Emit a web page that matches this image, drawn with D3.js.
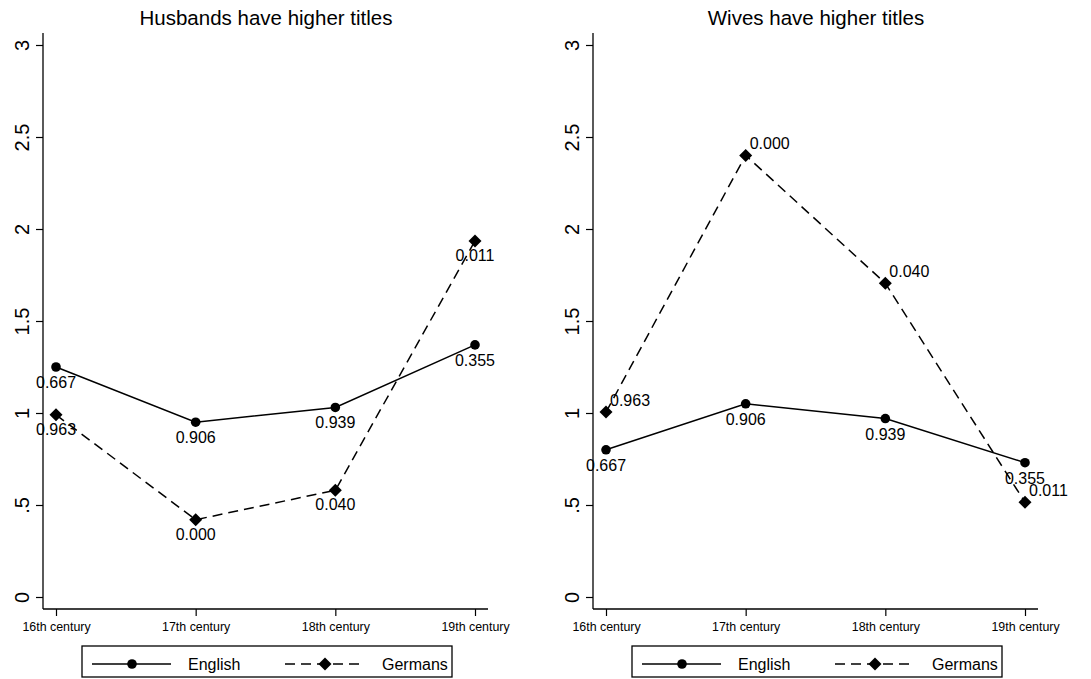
<!DOCTYPE html>
<html>
<head>
<meta charset="utf-8">
<script src="https://cdn.jsdelivr.net/npm/d3@7"></script>
<style>
  body { margin: 0; background: #fff; }
  svg { display: block; font-family: "Liberation Sans", Arial, Helvetica, sans-serif; }
</style>
</head>
<body>
<div id="chart"></div>
<script>
// Data
const centuries = ['16th century', '17th century', '18th century', '19th century'];
const yTicks = [0, 0.5, 1, 1.5, 2, 2.5, 3];
const yTickLabels = ['0', '.5', '1', '1.5', '2', '2.5', '3'];

const husbandsEnglish = [1.25, 0.95, 1.03, 1.37];
const husbandsGermans = [0.99, 0.42, 0.58, 1.935];
const wivesEnglish = [0.80, 1.05, 0.97, 0.73];
const wivesGermans = [1.005, 2.40, 1.705, 0.515];

const englishPvals = ['0.667', '0.906', '0.939', '0.355'];
const germansPvals = ['0.963', '0.000', '0.040', '0.011'];

const panels = [
  { title: 'Husbands have higher titles', english: husbandsEnglish, germans: husbandsGermans, left: 43, germansLabelPos: 'below' },
  { title: 'Wives have higher titles', english: wivesEnglish, germans: wivesGermans, left: 593, germansLabelPos: 'upright' }
];

const width = 1091, height = 679;
const dash = '10,6';
const font = '"Liberation Sans", Arial, Helvetica, sans-serif';

// filled diamond marker, half-diagonal r
const diamondPath = r => `M0,${-r}L${r},0L0,${r}L${-r},0Z`;

const svg = d3.select('#chart').append('svg')
  .attr('width', width)
  .attr('height', height);

const y = d3.scaleLinear().domain([0, 3]).range([597, 45]);

panels.forEach(p => {
  const g = svg.append('g').attr('transform', `translate(${p.left},0)`);
  const x = d3.scalePoint().domain(centuries).range([13, 432]);
  const axisRight = 445;

  // title
  g.append('text')
    .attr('x', 223)
    .attr('y', 25)
    .attr('text-anchor', 'middle')
    .attr('font-size', 20.5)
    .text(p.title);

  // y axis
  const yAxis = g.append('g')
    .call(d3.axisLeft(y).tickValues(yTicks).tickFormat((d, i) => yTickLabels[i]).tickSize(7).tickSizeOuter(0));
  yAxis.select('.domain').remove();
  yAxis.selectAll('.tick line').attr('stroke', '#000').attr('stroke-width', 1.2);
  yAxis.selectAll('.tick text')
    .attr('transform', 'rotate(-90)')
    .attr('x', 0)
    .attr('y', -14)
    .attr('dy', 0)
    .attr('text-anchor', 'middle')
    .attr('font-size', 20)
    .attr('font-family', font)
    .attr('fill', '#000');
  g.append('line')
    .attr('x1', 0).attr('x2', 0)
    .attr('y1', 33).attr('y2', 609)
    .attr('stroke', '#000').attr('stroke-width', 1.3);

  // x axis
  const xAxis = g.append('g')
    .attr('transform', 'translate(0,609)')
    .call(d3.axisBottom(x).tickSize(7).tickPadding(6).tickSizeOuter(0));
  xAxis.select('.domain').remove();
  xAxis.selectAll('.tick line').attr('stroke', '#000').attr('stroke-width', 1.2);
  xAxis.selectAll('.tick text')
    .attr('font-size', 12.4)
    .attr('font-family', font)
    .attr('fill', '#000');
  g.append('line')
    .attr('x1', 0).attr('x2', axisRight)
    .attr('y1', 609).attr('y2', 609)
    .attr('stroke', '#000').attr('stroke-width', 1.3);

  const line = d3.line()
    .x((d, i) => x(centuries[i]))
    .y(d => y(d));

  // Germans series
  g.append('path')
    .datum(p.germans)
    .attr('d', line)
    .attr('fill', 'none')
    .attr('stroke', '#000')
    .attr('stroke-width', 1.5)
    .attr('stroke-dasharray', dash);

  // English series
  g.append('path')
    .datum(p.english)
    .attr('d', line)
    .attr('fill', 'none')
    .attr('stroke', '#000')
    .attr('stroke-width', 1.5);

  g.selectAll('.gm')
    .data(p.germans)
    .join('path')
    .attr('class', 'gm')
    .attr('d', diamondPath(6.5))
    .attr('transform', (d, i) => `translate(${x(centuries[i])},${y(d)})`)
    .attr('fill', '#000');

  g.selectAll('.en')
    .data(p.english)
    .join('circle')
    .attr('class', 'en')
    .attr('cx', (d, i) => x(centuries[i]))
    .attr('cy', d => y(d))
    .attr('r', 4.8)
    .attr('fill', '#000');

  // p-value labels
  g.selectAll('.enl')
    .data(p.english)
    .join('text')
    .attr('class', 'enl')
    .attr('x', (d, i) => x(centuries[i]))
    .attr('y', d => y(d) + 21)
    .attr('text-anchor', 'middle')
    .attr('font-size', 16)
    .text((d, i) => englishPvals[i]);

  g.selectAll('.gml')
    .data(p.germans)
    .join('text')
    .attr('class', 'gml')
    .attr('x', (d, i) => x(centuries[i]) + (p.germansLabelPos === 'below' ? 0 : 4))
    .attr('y', d => y(d) + (p.germansLabelPos === 'below' ? 20 : -6))
    .attr('text-anchor', p.germansLabelPos === 'below' ? 'middle' : 'start')
    .attr('font-size', 16)
    .text((d, i) => germansPvals[i]);

  // legend
  const lg = g.append('g').attr('transform', 'translate(39,646)');
  lg.append('rect')
    .attr('x', 0).attr('y', 0)
    .attr('width', 370).attr('height', 31)
    .attr('fill', '#fff')
    .attr('stroke', '#000')
    .attr('stroke-width', 1.3);
  lg.append('line')
    .attr('x1', 10).attr('x2', 89).attr('y1', 18).attr('y2', 18)
    .attr('stroke', '#000').attr('stroke-width', 1.5);
  lg.append('circle').attr('cx', 50).attr('cy', 18).attr('r', 4.8).attr('fill', '#000');
  lg.append('text').attr('x', 106).attr('y', 24).attr('font-size', 16).text('English');
  lg.append('line')
    .attr('x1', 203).attr('x2', 283).attr('y1', 18).attr('y2', 18)
    .attr('stroke', '#000').attr('stroke-width', 1.5)
    .attr('stroke-dasharray', dash);
  lg.append('path')
    .attr('d', diamondPath(6.5))
    .attr('transform', 'translate(243,18)')
    .attr('fill', '#000');
  lg.append('text').attr('x', 300).attr('y', 24).attr('font-size', 16).text('Germans');
});
</script>
</body>
</html>
